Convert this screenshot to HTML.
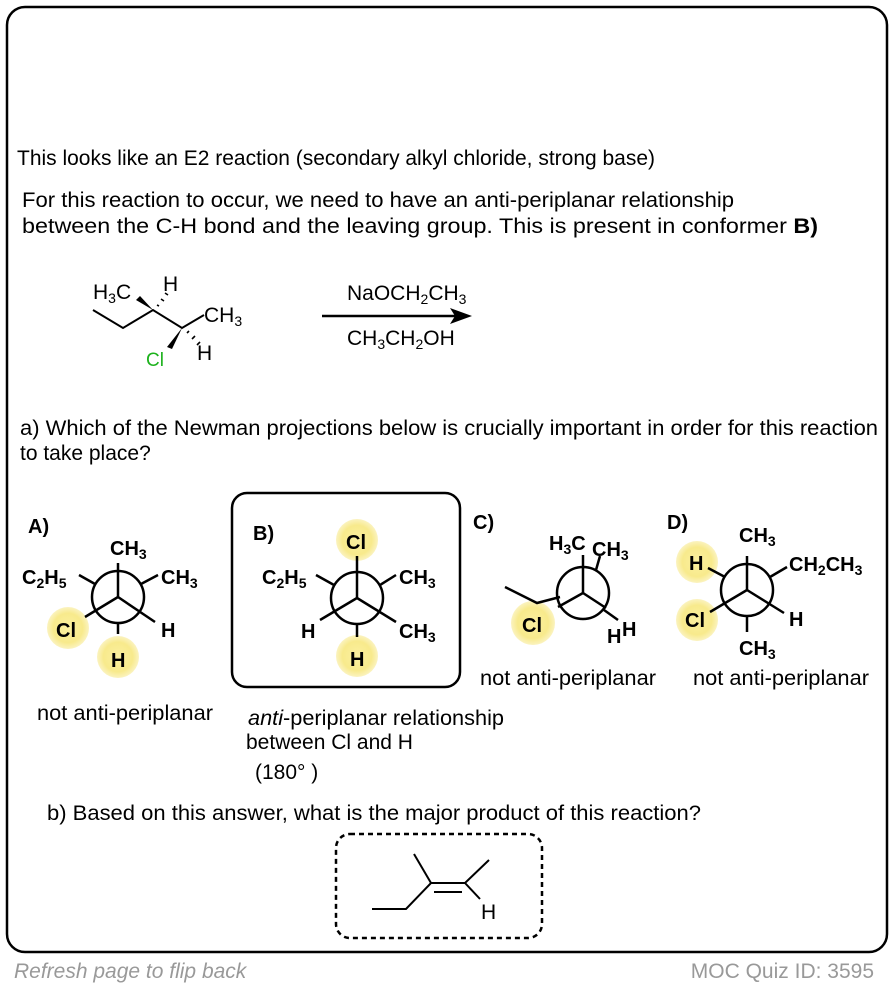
<!DOCTYPE html>
<html><head><meta charset="utf-8"><style>
html,body{margin:0;padding:0;background:#fff;}
svg{display:block;font-family:"Liberation Sans",Arial,sans-serif;}
.t{font-size:21px;fill:#000;}
.b{font-size:20px;font-weight:bold;fill:#000;}
.s{font-size:14px;}
</style></head><body>
<svg width="894" height="988" viewBox="0 0 894 988" xmlns="http://www.w3.org/2000/svg">
<defs>
<radialGradient id="hl" cx="50%" cy="50%" r="50%">
<stop offset="0%" stop-color="#fbf0a0"/><stop offset="70%" stop-color="#f8ea8c"/><stop offset="100%" stop-color="#fbf3c0"/>
</radialGradient>
</defs>
<rect x="7" y="7" width="880" height="945" rx="18" fill="#fff" stroke="#000" stroke-width="2.5"/>

<text class="t" x="17" y="165" textLength="638" lengthAdjust="spacingAndGlyphs">This looks like an E2 reaction (secondary alkyl chloride, strong base)</text>
<text class="t" x="22" y="207" textLength="712" lengthAdjust="spacingAndGlyphs">For this reaction to occur, we need to have an anti-periplanar relationship</text>
<text class="t" x="22" y="233" textLength="796" lengthAdjust="spacingAndGlyphs">between the C-H bond and the leaving group. This is present in conformer <tspan font-weight="bold">B)</tspan></text>

<g stroke="#000" stroke-width="2" fill="none">
<polyline points="93,310 123,328 153,310 182,328 204,315"/>
</g>
<polygon points="153,310 136,300 140,296" fill="#000"/>
<g stroke="#000" stroke-width="1.6">
<line x1="157" y1="305" x2="159" y2="306"/><line x1="161" y1="299" x2="164" y2="301"/><line x1="165" y1="293" x2="168" y2="295"/>
<line x1="187" y1="333" x2="189" y2="331"/><line x1="192" y1="339" x2="195" y2="336"/><line x1="197" y1="345" x2="200" y2="342"/>
</g>
<polygon points="182,328 167,347 172,349" fill="#000"/>
<text class="t" x="93" y="299" font-size="19">H<tspan class="s" dy="4">3</tspan><tspan dy="-4">C</tspan></text>
<text class="t" x="163" y="291" font-size="19">H</text>
<text class="t" x="204" y="322" font-size="19">CH<tspan class="s" dy="4">3</tspan></text>
<text class="t" x="197" y="360" font-size="19">H</text>
<text x="146" y="366" font-size="19" fill="#1db21d">Cl</text>

<line x1="322" y1="316" x2="455" y2="316" stroke="#000" stroke-width="2.5"/>
<polygon points="472,316 450,308 455,316 450,324" fill="#000"/>
<text class="t" x="347" y="300" font-size="20">NaOCH<tspan class="s" dy="4">2</tspan><tspan dy="-4">CH</tspan><tspan class="s" dy="4">3</tspan></text>
<text class="t" x="347" y="345" font-size="20">CH<tspan class="s" dy="4">3</tspan><tspan dy="-4">CH</tspan><tspan class="s" dy="4">2</tspan><tspan dy="-4">OH</tspan></text>

<text class="t" x="20" y="435" textLength="858" lengthAdjust="spacingAndGlyphs">a) Which of the Newman projections below is crucially important in order for this reaction</text>
<text class="t" x="20" y="460">to take place?</text>

<g fill="url(#hl)">
<circle cx="68" cy="628" r="21"/><circle cx="118" cy="657" r="21"/>
<circle cx="357" cy="540" r="21"/><circle cx="357" cy="656" r="21"/>
<circle cx="533" cy="623" r="22"/>
<circle cx="697" cy="562" r="21"/><circle cx="697" cy="620" r="21"/>
</g>

<g stroke="#000" stroke-width="2.5" fill="none">
<circle cx="118" cy="597" r="26"/>
<line x1="118" y1="597" x2="118" y2="563"/>
<line x1="118" y1="597" x2="85" y2="617"/>
<line x1="118" y1="597" x2="155" y2="622"/>
<line x1="95" y1="584" x2="79" y2="575"/>
<line x1="141" y1="584" x2="158" y2="575"/>
<line x1="118" y1="623" x2="118" y2="634"/>
</g>
<text class="b" x="28" y="533">A)</text>
<text class="b" x="110" y="555">CH<tspan class="s" dy="4">3</tspan></text>
<text class="b" x="22" y="584">C<tspan class="s" dy="4">2</tspan><tspan dy="-4">H</tspan><tspan class="s" dy="4">5</tspan></text>
<text class="b" x="161" y="584">CH<tspan class="s" dy="4">3</tspan></text>
<text class="b" x="56" y="637">Cl</text>
<text class="b" x="111" y="667">H</text>
<text class="b" x="161" y="637">H</text>

<rect x="232" y="493" width="228" height="194" rx="15" fill="none" stroke="#000" stroke-width="2.5"/>
<g stroke="#000" stroke-width="2.5" fill="none">
<circle cx="357" cy="598" r="26"/>
<line x1="357" y1="598" x2="357" y2="556"/>
<line x1="357" y1="598" x2="320" y2="620"/>
<line x1="357" y1="598" x2="396" y2="622"/>
<line x1="334" y1="585" x2="316" y2="575"/>
<line x1="380" y1="585" x2="396" y2="575"/>
<line x1="357" y1="624" x2="357" y2="637"/>
</g>
<text class="b" x="253" y="540">B)</text>
<text class="b" x="346" y="549">Cl</text>
<text class="b" x="262" y="584">C<tspan class="s" dy="4">2</tspan><tspan dy="-4">H</tspan><tspan class="s" dy="4">5</tspan></text>
<text class="b" x="399" y="584">CH<tspan class="s" dy="4">3</tspan></text>
<text class="b" x="301" y="638">H</text>
<text class="b" x="399" y="638">CH<tspan class="s" dy="4">3</tspan></text>
<text class="b" x="350" y="666">H</text>

<g stroke="#000" stroke-width="2.5" fill="none">
<circle cx="583" cy="593" r="26"/>
<line x1="583" y1="593" x2="583" y2="555"/>
<line x1="583" y1="593" x2="558" y2="607"/>
<line x1="583" y1="593" x2="606" y2="608"/>
<line x1="596" y1="570" x2="600" y2="556"/>
<polyline points="505,587 537,603 560,597"/>
<line x1="604" y1="610" x2="618" y2="620"/>
</g>
<text class="b" x="473" y="529">C)</text>
<text class="b" x="549" y="550">H<tspan class="s" dy="4">3</tspan><tspan dy="-4">C</tspan></text>
<text class="b" x="592" y="556">CH<tspan class="s" dy="4">3</tspan></text>
<text class="b" x="522" y="632">Cl</text>
<text class="b" x="607" y="643">H</text>
<text class="b" x="622" y="636">H</text>

<g stroke="#000" stroke-width="2.5" fill="none">
<circle cx="747" cy="590" r="26"/>
<line x1="747" y1="590" x2="747" y2="556"/>
<line x1="747" y1="590" x2="710" y2="612"/>
<line x1="747" y1="590" x2="784" y2="613"/>
<line x1="725" y1="577" x2="708" y2="568"/>
<line x1="770" y1="577" x2="787" y2="567"/>
<line x1="747" y1="616" x2="747" y2="632"/>
</g>
<text class="b" x="667" y="529">D)</text>
<text class="b" x="739" y="542">CH<tspan class="s" dy="4">3</tspan></text>
<text class="b" x="689" y="570">H</text>
<text class="b" x="789" y="571">CH<tspan class="s" dy="4">2</tspan><tspan dy="-4">CH</tspan><tspan class="s" dy="4">3</tspan></text>
<text class="b" x="685" y="627">Cl</text>
<text class="b" x="789" y="626">H</text>
<text class="b" x="739" y="655">CH<tspan class="s" dy="4">3</tspan></text>

<text class="t" x="37" y="720" textLength="176" lengthAdjust="spacingAndGlyphs">not anti-periplanar</text>
<text class="t" x="480" y="685" textLength="176" lengthAdjust="spacingAndGlyphs">not anti-periplanar</text>
<text class="t" x="693" y="685" textLength="176" lengthAdjust="spacingAndGlyphs">not anti-periplanar</text>
<text class="t" x="248" y="725" textLength="256" lengthAdjust="spacingAndGlyphs"><tspan font-style="italic">anti</tspan>-periplanar relationship</text>
<text class="t" x="246" y="749">between Cl and H</text>
<text class="t" x="255" y="779">(180° )</text>

<text class="t" x="47" y="820" textLength="654" lengthAdjust="spacingAndGlyphs">b) Based on this answer, what is the major product of this reaction?</text>

<rect x="336" y="834" width="206" height="104" rx="14" fill="none" stroke="#000" stroke-width="2.5" stroke-dasharray="5,4"/>
<g stroke="#000" stroke-width="2" fill="none">
<polyline points="372,909 406,909 431,883 465,883 489,860"/>
<line x1="431" y1="883" x2="414" y2="854"/>
<line x1="434" y1="892" x2="462" y2="892"/>
<line x1="465" y1="883" x2="480" y2="899"/>
</g>
<text class="t" x="481" y="919" font-size="20">H</text>

<text x="14" y="978" font-size="21" font-style="italic" fill="#999">Refresh page to flip back</text>
<text x="874" y="978" font-size="21" fill="#999" text-anchor="end">MOC Quiz ID: 3595</text>
</svg>
</body></html>
